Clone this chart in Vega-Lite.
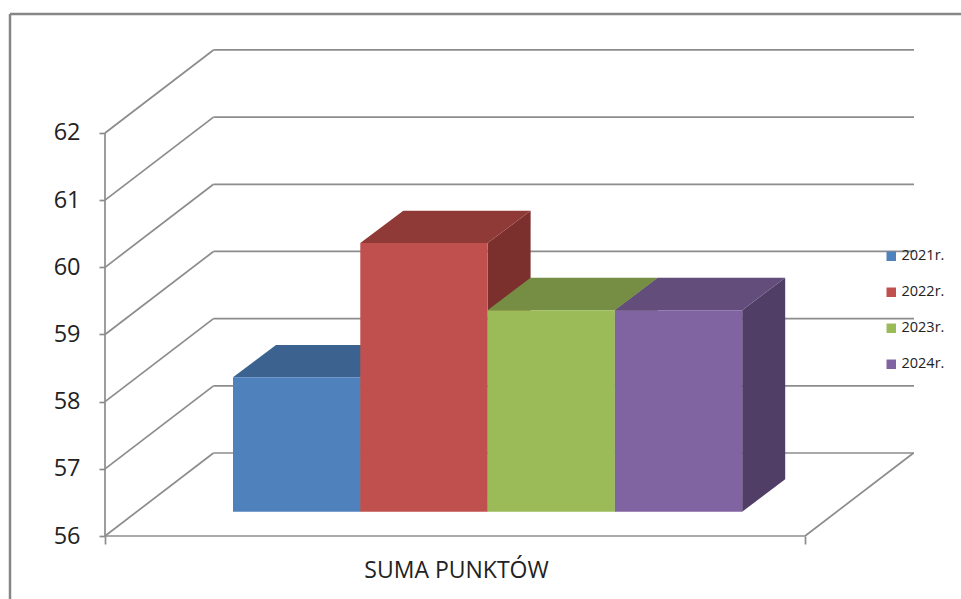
{
"$schema":"https://vega.github.io/schema/vega-lite/v6.json",
"width":810,"height":486,
"autosize":{"type":"none"},
"padding":{"left":105,"top":50,"right":46,"bottom":63},
"background":"white",
"config":{"view":{"stroke":null},"font":"Open Sans"},
"datasets":{
"bars":[
{"series":"2021r.","order":0,"value":58},
{"series":"2022r.","order":1,"value":60},
{"series":"2023r.","order":2,"value":59},
{"series":"2024r.","order":3,"value":59}],
"ticks":[{"tick":56},{"tick":57},{"tick":58},{"tick":59},{"tick":60},{"tick":61},{"tick":62}]
},
"resolve":{"scale":{"color":"independent"}},
"layer":[
{"data":{"name":"ticks"},
 "transform":[{"calculate":"datum.tick+1.2357","as":"back"}],
 "mark":{"type":"rule","stroke":"#8c8c8c","strokeWidth":1.7},
 "encoding":{
  "x":{"datum":108.5,"type":"quantitative","scale":{"domain":[0,810],"nice":false,"zero":false},
   "axis":{"values":[0,700],"labels":false,"grid":false,"domain":false,"tickSize":8,"tickColor":"#8c8c8c","tickWidth":1.7,"title":"SUMA PUNKTÓW","titleFont":"Open Sans","titleFontSize":23,"titleFontWeight":"normal","titleColor":"#222222","titleX":351,"titleY":34,"titleBaseline":"middle"}},
  "x2":{"datum":809},
  "y":{"field":"back","type":"quantitative","scale":{"domain":[56,63.235],"nice":false,"zero":false},
   "axis":{"values":[56,57,58,59,60,61,62],"grid":false,"domain":false,"tickSize":6,"tickColor":"#8c8c8c","tickWidth":1.7,"labelFont":"Open Sans","labelFontSize":23.5,"labelColor":"#222222","labelPadding":19,"title":null,"format":"d"}}
 }},
{"data":{"name":"ticks"},
 "transform":[{"calculate":"datum.tick+1.2357","as":"back"}],
 "mark":{"type":"rule","stroke":"#8c8c8c","strokeWidth":1.7},
 "encoding":{
  "x":{"datum":0,"type":"quantitative"},
  "x2":{"datum":108.5},
  "y":{"field":"tick","type":"quantitative"},
  "y2":{"field":"back"}
 }},
{"data":{"values":[{"a":0}]},
 "mark":{"type":"rule","stroke":"#8c8c8c","strokeWidth":1.7},
 "encoding":{"x":{"datum":0,"type":"quantitative"},"y":{"datum":56,"type":"quantitative"},"y2":{"datum":62}}},
{"data":{"values":[{"a":0}]},
 "mark":{"type":"rule","stroke":"#8c8c8c","strokeWidth":1.7},
 "encoding":{"x":{"datum":0,"type":"quantitative"},"x2":{"datum":700},"y":{"datum":56,"type":"quantitative"}}},
{"data":{"values":[{"a":0}]},
 "mark":{"type":"rule","stroke":"#8c8c8c","strokeWidth":1.7},
 "encoding":{"x":{"datum":700,"type":"quantitative"},"x2":{"datum":808.5},"y":{"datum":56,"type":"quantitative"},"y2":{"datum":57.2357}}},
{"data":{"values":[{"a":0}]},
 "mark":{"type":"rule","stroke":"#868686","strokeWidth":2.5},
 "encoding":{"x":{"datum":-95,"type":"quantitative"},"y":{"datum":55.05,"type":"quantitative"},"y2":{"datum":63.77}}},
{"data":{"values":[{"a":0}]},
 "mark":{"type":"rule","stroke":"#868686","strokeWidth":2.5},
 "encoding":{"x":{"datum":-95,"type":"quantitative"},"x2":{"datum":856},"y":{"datum":63.77,"type":"quantitative"}}},
{"data":{"name":"bars"},
 "transform":[
  {"calculate":"[0,1]","as":"t"},{"flatten":["t"]},
  {"calculate":"128+127.3*datum.order+127.3+datum.t*43","as":"sx"},
  {"calculate":"datum.value+0.362+datum.t*0.481","as":"sy"},
  {"calculate":"56.362+datum.t*0.481","as":"sy2"}],
 "mark":{"type":"area","orient":"vertical"},
 "encoding":{
  "x":{"field":"sx","type":"quantitative"},
  "y":{"field":"sy","type":"quantitative","stack":null},
  "y2":{"field":"sy2"},
  "color":{"field":"series","type":"nominal","legend":null,"scale":{"domain":["2021r.","2022r.","2023r.","2024r."],"range":["#32506F","#7B302E","#5F7435","#513E66"]}}
 }},
{"data":{"name":"bars"},
 "transform":[
  {"calculate":"[0,1]","as":"t"},{"flatten":["t"]},
  {"calculate":"128+127.3*datum.order+datum.t*43","as":"tx"},
  {"calculate":"datum.tx+127.3","as":"tx2"},
  {"calculate":"datum.value+0.362+datum.t*0.481","as":"ty"}],
 "mark":{"type":"area","orient":"horizontal"},
 "encoding":{
  "x":{"field":"tx","type":"quantitative","stack":null},
  "x2":{"field":"tx2"},
  "y":{"field":"ty","type":"quantitative"},
  "color":{"field":"series","type":"nominal","legend":null,"scale":{"domain":["2021r.","2022r.","2023r.","2024r."],"range":["#3C628F","#903A38","#758E43","#624D7B"]}}
 }},
{"data":{"name":"bars"},
 "transform":[
  {"calculate":"128+127.3*datum.order","as":"fx"},
  {"calculate":"datum.fx+127.3","as":"fx2"},
  {"calculate":"datum.value+0.362","as":"fy"}],
 "mark":{"type":"rect"},
 "encoding":{
  "x":{"field":"fx","type":"quantitative"},
  "x2":{"field":"fx2"},
  "y":{"field":"fy","type":"quantitative"},
  "y2":{"datum":56.362},
  "color":{"field":"series","type":"nominal","scale":{"domain":["2021r.","2022r.","2023r.","2024r."],"range":["#4F81BD","#C0504D","#9BBB59","#8064A2"]},
   "legend":{"orient":"none","legendX":779,"legendY":199,"title":null,"symbolType":"square","symbolSize":90,"symbolStrokeWidth":0,"labelFont":"Open Sans","labelFontSize":14.5,"labelColor":"#222222","labelOffset":3,"rowPadding":21,"padding":0}}
 }}
]
}
